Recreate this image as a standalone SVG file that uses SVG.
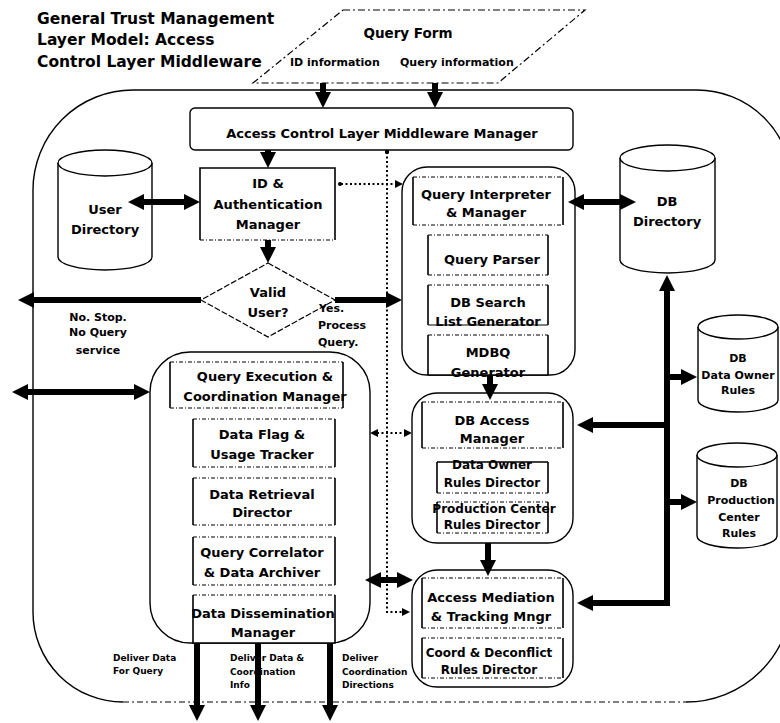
<svg xmlns="http://www.w3.org/2000/svg" width="780" height="723" viewBox="0 0 780 723">
  <defs>
    <style>
      text { font-family: "DejaVu Sans", "Liberation Sans", Arial, sans-serif; font-weight: bold; fill: #000; }
      .t13 { font-size: 13px; }
      .t12 { font-size: 12px; }
      .t11 { font-size: 11px; }
      .t9 { font-size: 9px; }
      .c { text-anchor: middle; }
      .outline { fill: none; stroke: #000; stroke-width: 1.4; }
      .outdash { fill: none; stroke: #000; stroke-width: 1.2; stroke-dasharray: 6 3 2 3; }
      .cont { fill: #fff; stroke: #000; stroke-width: 1.4; }
      .bg { fill: #fff; stroke: none; }
      .sd { fill: none; stroke: #000; stroke-width: 1.6; }
      .tb { fill: none; stroke: #000; stroke-width: 1.1; stroke-dasharray: 4 2 1 2; }
      .cyl { fill: #fff; stroke: #000; stroke-width: 1.4; }
      .form { fill: #fff; stroke: #000; stroke-width: 1.2; stroke-dasharray: 7 3 2 3; }
      .thick { fill: none; stroke: #000; stroke-width: 6; }
      .dot { fill: none; stroke: #000; stroke-width: 2; stroke-dasharray: 2 2.5; }
    </style>
    <marker id="ah" viewBox="0 0 16 16" markerWidth="16" markerHeight="16" refX="1" refY="8" orient="auto-start-reverse" markerUnits="userSpaceOnUse">
      <path d="M0,0 L16,8 L0,16 z" fill="#000"/>
    </marker>
    <marker id="sa" viewBox="0 0 8 8" markerWidth="8" markerHeight="8" refX="1" refY="4" orient="auto-start-reverse" markerUnits="userSpaceOnUse">
      <path d="M0,0 L8,4 L0,8 z" fill="#000"/>
    </marker>
  </defs>

  <!-- title -->
  <g id="title">
    <text x="37" y="24" style="font-size:15.5px">General Trust Management</text>
    <text x="37" y="45" style="font-size:15.5px">Layer Model: Access</text>
    <text x="37" y="67" style="font-size:15.5px">Control Layer Middleware</text>
  </g>

  <!-- outer middleware boundary -->
  <g id="boundary">
    <path class="outline" d="M123,702 A90,90 0 0 1 33,612 V190 A100,100 0 0 1 133,90 H697 A95,95 0 0 1 792,185 V596 A106,106 0 0 1 686,702"/>
    <path class="outdash" d="M123,702 H686"/>
  </g>

  <!-- query form -->
  <g id="query-form">
    <path class="form" d="M343,10 L585,10 L498,83 L253,83 Z"/>
    <text class="c" x="408" y="38" style="font-size:13.5px">Query Form</text>
    <text x="290" y="66" class="t11">ID information</text>
    <text x="400" y="66" class="t11">Query information</text>
  </g>

  <!-- access control layer middleware manager -->
  <g id="aclm-manager">
    <rect class="cont" x="190" y="108" width="383" height="42" rx="5"/>
    <text class="c t13" x="382" y="138">Access Control Layer Middleware Manager</text>
  </g>

  <!-- user directory -->
  <g id="user-directory">
    <path class="cyl" d="M58,163 a47,13 0 0 1 94,0 v94 a47,13 0 0 1 -94,0 z"/>
    <path class="cyl" d="M58,163 a47,13 0 0 0 94,0"/>
    <text class="c t13" x="105" y="214">User</text>
    <text class="c t13" x="105" y="234">Directory</text>
  </g>

  <!-- id & authentication manager -->
  <g id="id-auth">
    <rect class="bg" x="200" y="168" width="135" height="72"/>
    <path class="sd" d="M200,240 V168 H335 V240"/>
    <path class="tb" d="M200,240 H335"/>
    <text class="c t13" x="268" y="188">ID &amp;</text>
    <text class="c t13" x="268" y="209">Authentication</text>
    <text class="c t13" x="268" y="229">Manager</text>
  </g>

  <!-- valid user decision -->
  <g id="valid-user">
    <path fill="#fff" stroke="#000" stroke-width="1.2" stroke-dasharray="6 2" d="M268,263 L335,300 L268,337 L201,300 Z"/>
    <text class="c t13" x="268" y="297">Valid</text>
    <text class="c t13" x="268" y="317">User?</text>
  </g>

  <!-- query interpreter group -->
  <g id="query-interpreter">
    <rect class="cont" x="402" y="167" width="173" height="208" rx="25"/>
    <g>
      <rect class="bg" x="413" y="177" width="150" height="48"/>
      <path class="sd" d="M413,177 V225 M563,177 V225"/>
      <path class="tb" d="M413,177 H563 M413,225 H563"/>
      <text class="c t13" x="486" y="199">Query Interpreter</text>
      <text class="c t13" x="486" y="217">&amp; Manager</text>
    </g>
    <g id="query-parser">
      <rect class="bg" x="428" y="235" width="120" height="40"/>
      <path class="sd" d="M428,235 V275 M548,235 V275"/>
      <path class="tb" d="M428,235 H548 M428,275 H548"/>
      <text class="c t13" x="492" y="264">Query Parser</text>
    </g>
    <g id="db-search">
      <rect class="bg" x="428" y="285" width="120" height="40"/>
      <path class="sd" d="M428,285 V325 M548,285 V325"/>
      <text class="c t13" x="488" y="307">DB Search</text>
      <text class="c t13" x="488" y="326">List Generator</text>
      <path class="tb" d="M428,285 H548"/>
      <path class="sd" d="M428,325 H548" style="stroke-width:1.2"/>
    </g>
    <g id="mdbq">
      <rect class="bg" x="428" y="335" width="120" height="40"/>
      <path class="sd" d="M428,335 V375 M548,335 V375"/>
      <path class="tb" d="M428,335 H548"/>
      <text class="c t13" x="488" y="357">MDBQ</text>
      <text class="c t13" x="488" y="377">Generator</text>
      <path class="sd" d="M428,375 H548" style="stroke-width:1.4"/>
    </g>
  </g>

  <!-- db directory -->
  <g id="db-directory">
    <path class="cyl" d="M620,158 a47.5,13 0 0 1 95,0 v102 a47.5,13 0 0 1 -95,0 z"/>
    <path class="cyl" d="M620,158 a47.5,13 0 0 0 95,0"/>
    <text class="c t13" x="667" y="206">DB</text>
    <text class="c t13" x="667" y="226">Directory</text>
  </g>

  <!-- data owner rules -->
  <g id="db-data-owner">
    <path class="cyl" d="M698,327 a40,12 0 0 1 80,0 v73 a40,12 0 0 1 -80,0 z"/>
    <path class="cyl" d="M698,327 a40,12 0 0 0 80,0"/>
    <text class="c t11" x="738" y="362">DB</text>
    <text class="c t11" x="738" y="379">Data Owner</text>
    <text class="c t11" x="738" y="394">Rules</text>
  </g>

  <!-- production center rules -->
  <g id="db-production">
    <path class="cyl" d="M697,455 a40,12 0 0 1 80,0 v81 a40,12 0 0 1 -80,0 z"/>
    <path class="cyl" d="M697,455 a40,12 0 0 0 80,0"/>
    <text class="c t11" x="739" y="487">DB</text>
    <text class="c t11" x="741" y="504">Production</text>
    <text class="c t11" x="739" y="521">Center</text>
    <text class="c t11" x="739" y="537">Rules</text>
  </g>

  <!-- db access manager group -->
  <g id="db-access">
    <rect class="cont" x="412" y="393" width="161" height="150" rx="25"/>
    <g>
      <rect class="bg" x="422" y="402" width="141" height="46"/>
      <path class="sd" d="M422,402 V448 M563,402 V448"/>
      <path class="tb" d="M422,402 H563 M422,448 H563"/>
      <text class="c t13" x="492" y="425">DB Access</text>
      <text class="c t13" x="492" y="443">Manager</text>
    </g>
    <g id="owner-director">
      <rect class="bg" x="437" y="462" width="111" height="31"/>
      <text class="c t12" x="492" y="469">Data Owner</text>
      <rect class="bg" x="436" y="470" width="113" height="22"/>
      <text class="c t12" x="492" y="487">Rules Director</text>
      <path class="sd" d="M437,462 V493 M548,462 V493 M437,462 H548"/>
      <path class="tb" d="M437,493 H548"/>
    </g>
    <g id="production-director">
      <rect class="bg" x="437" y="502" width="111" height="31"/>
      <path class="sd" d="M437,502 V533 M548,502 V533"/>
      <path class="tb" d="M437,502 H548 M437,533 H548"/>
      <text class="c t12" x="494" y="513">Production Center</text>
      <text class="c t12" x="492" y="529">Rules Director</text>
    </g>
  </g>

  <!-- access mediation group -->
  <g id="access-mediation">
    <rect class="cont" x="412" y="570" width="161" height="117" rx="25"/>
    <g>
      <rect class="bg" x="422" y="578" width="141" height="50"/>
      <path class="sd" d="M422,578 V628 M563,578 V628"/>
      <path class="tb" d="M422,578 H563 M422,628 H563"/>
      <text class="c t13" x="491" y="602">Access Mediation</text>
      <text class="c t13" x="491" y="621">&amp; Tracking Mngr</text>
    </g>
    <g id="coord-director">
      <rect class="bg" x="422" y="638" width="141" height="40"/>
      <path class="sd" d="M422,638 V678 M563,638 V678"/>
      <path class="tb" d="M422,638 H563 M422,678 H563"/>
      <text class="c t12" x="489" y="657">Coord &amp; Deconflict</text>
      <text class="c t12" x="489" y="674">Rules Director</text>
    </g>
  </g>

  <!-- query execution group -->
  <g id="query-execution">
    <rect class="cont" x="150" y="352" width="220" height="291" rx="40"/>
    <g>
      <rect class="bg" x="170" y="362" width="173" height="46"/>
      <path class="sd" d="M170,362 V408 M343,362 V408"/>
      <path class="tb" d="M170,362 H343 M170,408 H343"/>
      <text class="c t13" x="265" y="381">Query Execution &amp;</text>
      <text class="c t13" x="265" y="401">Coordination Manager</text>
    </g>
    <g id="data-flag">
      <rect class="bg" x="193" y="419" width="142" height="48"/>
      <path class="sd" d="M193,419 V467 M335,419 V467"/>
      <path class="tb" d="M193,419 H335 M193,467 H335"/>
      <text class="c t13" x="262" y="439">Data Flag &amp;</text>
      <text class="c t13" x="262" y="459">Usage Tracker</text>
    </g>
    <g id="data-retrieval">
      <rect class="bg" x="193" y="478" width="142" height="47"/>
      <path class="sd" d="M193,478 V525 M335,478 V525"/>
      <path class="tb" d="M193,478 H335 M193,525 H335"/>
      <text class="c t13" x="262" y="499">Data Retrieval</text>
      <text class="c t13" x="262" y="517">Director</text>
    </g>
    <g id="query-correlator">
      <rect class="bg" x="193" y="537" width="142" height="48"/>
      <path class="sd" d="M193,537 V585 M335,537 V585"/>
      <path class="tb" d="M193,537 H335 M193,585 H335"/>
      <text class="c t13" x="262" y="557">Query Correlator</text>
      <text class="c t13" x="262" y="577">&amp; Data Archiver</text>
    </g>
    <g id="data-dissemination">
      <rect class="bg" x="193" y="595" width="142" height="48"/>
      <path class="sd" d="M193,595 V643 H335 V595"/>
      <path class="tb" d="M193,595 H335"/>
      <text class="c t13" x="263" y="618">Data Dissemination</text>
      <text class="c t13" x="263" y="637">Manager</text>
    </g>
  </g>

  <!-- connector labels -->
  <g id="labels">
    <text class="c t11" x="98" y="321">No. Stop.</text>
    <text class="c t11" x="98" y="336">No Query</text>
    <text class="c t11" x="98" y="354">service</text>
    <text class="t11" x="319" y="312">Yes.</text>
    <text class="t11" x="318" y="329">Process</text>
    <text class="t11" x="318" y="346">Query.</text>
    <text class="t9" x="113" y="661">Deliver Data</text>
    <text class="t9" x="113" y="674">For Query</text>
    <text class="t9" x="230" y="661">Deliver Data &amp;</text>
    <text class="t9" x="230" y="675">Coordination</text>
    <text class="t9" x="230" y="688">Info</text>
    <text class="t9" x="342" y="661">Deliver</text>
    <text class="t9" x="342" y="675">Coordination</text>
    <text class="t9" x="342" y="688">Directions</text>
  </g>

  <!-- connectors -->
  <g id="connectors">
    <path class="thick" d="M323,83 V93" marker-end="url(#ah)"/>
    <path class="thick" d="M435,83 V93" marker-end="url(#ah)"/>
    <path class="thick" d="M268,150 V153" marker-end="url(#ah)"/>
    <path class="thick" d="M143,202 H185" marker-start="url(#ah)" marker-end="url(#ah)"/>
    <path class="thick" d="M268,240 V248" marker-end="url(#ah)"/>
    <path class="thick" d="M201,300 H33" marker-end="url(#ah)"/>
    <path class="thick" d="M335,300 H387" marker-end="url(#ah)"/>
    <path class="thick" d="M583,202 H621" marker-start="url(#ah)" marker-end="url(#ah)"/>
    <path class="thick" d="M490,375 V385" marker-end="url(#ah)"/>
    <path class="thick" d="M488,543 V561" marker-end="url(#ah)"/>
    <path class="thick" d="M27,392 H135" marker-start="url(#ah)" marker-end="url(#ah)"/>
    <path class="thick" d="M380,580 H398" marker-start="url(#ah)" marker-end="url(#ah)"/>
    <path class="thick" d="M667,290 V603 H592" marker-start="url(#ah)" marker-end="url(#ah)"/>
    <path class="thick" d="M667,377 H682" marker-end="url(#ah)"/>
    <path class="thick" d="M667,425 H592" marker-end="url(#ah)"/>
    <path class="thick" d="M667,502 H682" marker-end="url(#ah)"/>
    <path class="thick" d="M197,643 V706" marker-end="url(#ah)"/>
    <path class="thick" d="M258,643 V706" marker-end="url(#ah)"/>
    <path class="thick" d="M330,643 V706" marker-end="url(#ah)"/>
    <path class="dot" d="M387,152 V612 H403" marker-end="url(#sa)"/>
    <circle cx="387" cy="152" r="2.2" fill="#000"/>
    <path class="dot" d="M341,184 H396" marker-end="url(#sa)"/>
    <circle cx="340" cy="184" r="2" fill="#000"/>
    <path class="dot" d="M377,433 H405" marker-start="url(#sa)" marker-end="url(#sa)"/>
  </g>
</svg>
